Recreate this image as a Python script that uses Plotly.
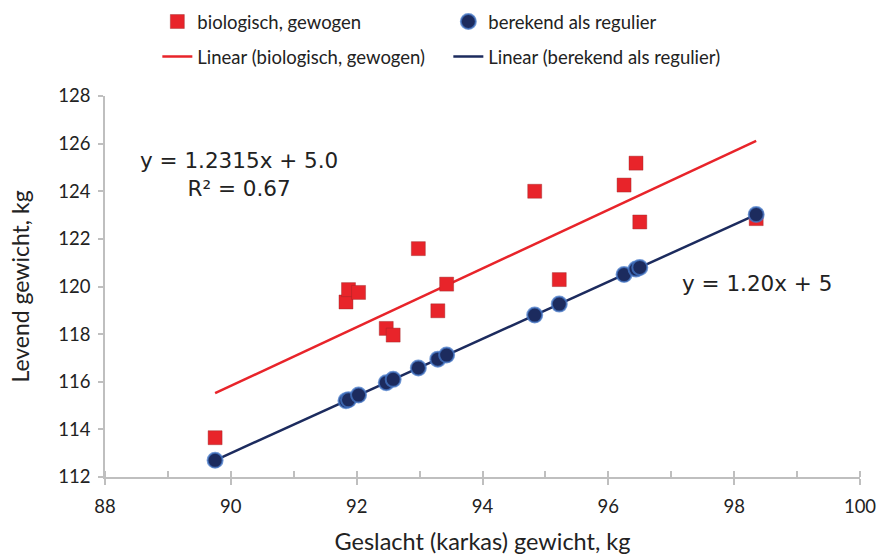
import numpy as np
import plotly.graph_objects as go

# ---- data ----
carcass_kg = [89.75, 91.83, 91.87, 92.03, 92.47, 92.58, 92.98, 93.29, 93.43,
              94.83, 95.22, 96.25, 96.44, 96.50, 98.35]
live_weighed_kg = [113.65, 119.35, 119.87, 119.75, 118.24, 117.96, 121.59, 118.98, 120.10,
                   124.00, 120.29, 124.26, 125.18, 122.71, 122.85]
live_regular_kg = [112.70, 115.20, 115.24, 115.44, 115.96, 116.10, 116.58, 116.95, 117.12,
                   118.80, 119.26, 120.50, 120.73, 120.80, 123.02]
trend_intercept = 5.0   # Excel trendlines with "set intercept = 5"

name_weighed = "biologisch, gewogen"
name_regular = "berekend als regulier"
eq_weighed = "y = 1.2315x + 5.0<br>R² = 0.67"
eq_regular = "y = 1.20x + 5"
x_title = "Geslacht (karkas) gewicht, kg"
y_title = "Levend gewicht, kg"

RED = "#e8242a"
NAVY = "#1c2b5e"
AXIS = "#bfbfbf"
TXT = "#222222"
TICKFONT = "Lato, 'Noto Sans', sans-serif"
EQFONT = "DejaVu Sans, Verdana, sans-serif"


def fixed_intercept_slope(x, y, b):
    x = np.asarray(x, float)
    y = np.asarray(y, float)
    return float(np.sum(x * (y - b)) / np.sum(x * x))


xs = np.array(carcass_kg)
xline = np.array([xs.min(), xs.max()])
a1 = fixed_intercept_slope(carcass_kg, live_weighed_kg, trend_intercept)
a2 = fixed_intercept_slope(carcass_kg, live_regular_kg, trend_intercept)

fig = go.Figure()
fig.add_trace(go.Scatter(
    x=xline, y=a1 * xline + trend_intercept, mode="lines",
    name="Linear (" + name_weighed + ")",
    line=dict(color=RED, width=2.5), legend="legend2", hoverinfo="skip"))
fig.add_trace(go.Scatter(
    x=xline, y=a2 * xline + trend_intercept, mode="lines",
    name="Linear (" + name_regular + ")",
    line=dict(color=NAVY, width=2.5), legend="legend2", hoverinfo="skip"))
fig.add_trace(go.Scatter(
    x=carcass_kg, y=live_weighed_kg, mode="markers", name=name_weighed,
    marker=dict(symbol="square", size=14, color=RED,
                line=dict(color="rgba(150,40,40,0.5)", width=0.8)),
    legend="legend"))
fig.add_trace(go.Scatter(
    x=carcass_kg, y=live_regular_kg, mode="markers", name=name_regular,
    marker=dict(symbol="circle", size=15, color=NAVY,
                line=dict(color="rgba(70,120,200,0.75)", width=2)),
    legend="legend"))
# empty helper trace so the overlay axis (inner half of major ticks) is drawn
fig.add_trace(go.Scatter(x=[], y=[], xaxis="x2", showlegend=False, hoverinfo="skip"))

fig.add_annotation(x=90.13, y=124.71, xref="x", yref="y", text=eq_weighed,
                   showarrow=False, align="center",
                   font=dict(family=EQFONT, size=21.5, color=TXT))
fig.add_annotation(x=98.36, y=120.14, xref="x", yref="y", text=eq_regular,
                   showarrow=False, align="center",
                   font=dict(family=EQFONT, size=21.5, color=TXT))

legend_common = dict(orientation="h", xref="container", yref="container",
                     xanchor="left", yanchor="middle", entrywidth=246,
                     entrywidthmode="pixels", bgcolor="rgba(0,0,0,0)",
                     font=dict(family=TICKFONT, size=18.5, color=TXT),
                     traceorder="normal", itemwidth=30)

fig.update_layout(
    width=879, height=555,
    margin=dict(l=105, r=19, t=96, b=78, autoexpand=False),
    paper_bgcolor="white", plot_bgcolor="white",
    showlegend=True,
    legend=dict(x=0.179, y=1 - 22 / 555, **legend_common),
    legend2=dict(x=0.179, y=1 - 57 / 555, **legend_common),
    xaxis=dict(range=[88, 100], dtick=2, tick0=88, showgrid=False, zeroline=False,
               automargin=False,
               showline=True, linecolor=AXIS, linewidth=1.5,
               ticks="outside", ticklen=6, tickcolor=AXIS, tickwidth=1.5,
               ticklabelstandoff=6,
               minor=dict(dtick=1, tick0=88, ticks="inside", ticklen=6,
                          tickcolor=AXIS, tickwidth=1.5, showgrid=False),
               tickfont=dict(family=TICKFONT, size=18.5, color=TXT),
               title=dict(text=x_title, font=dict(family=TICKFONT, size=23.5, color=TXT),
                          standoff=20)),
    xaxis2=dict(range=[88, 100], dtick=2, tick0=88, overlaying="x", anchor="y",
                side="bottom", showgrid=False, zeroline=False, showline=False,
                automargin=False, showticklabels=False,
                ticks="inside", ticklen=6, tickcolor=AXIS, tickwidth=1.5),
    yaxis=dict(range=[112, 128], dtick=2, tick0=112, showgrid=False, zeroline=False,
               automargin=False,
               showline=True, linecolor=AXIS, linewidth=1.5,
               ticks="outside", ticklen=5, tickcolor=AXIS, tickwidth=1.5,
               ticklabelstandoff=4,
               tickfont=dict(family=TICKFONT, size=18.5, color=TXT),
               title=dict(text=y_title, font=dict(family=TICKFONT, size=23, color=TXT),
                          standoff=22)),
)

fig.write_html("out.html",
               config={"displayModeBar": False},
               post_script="document.body.style.margin='0';document.body.style.padding='0';")
